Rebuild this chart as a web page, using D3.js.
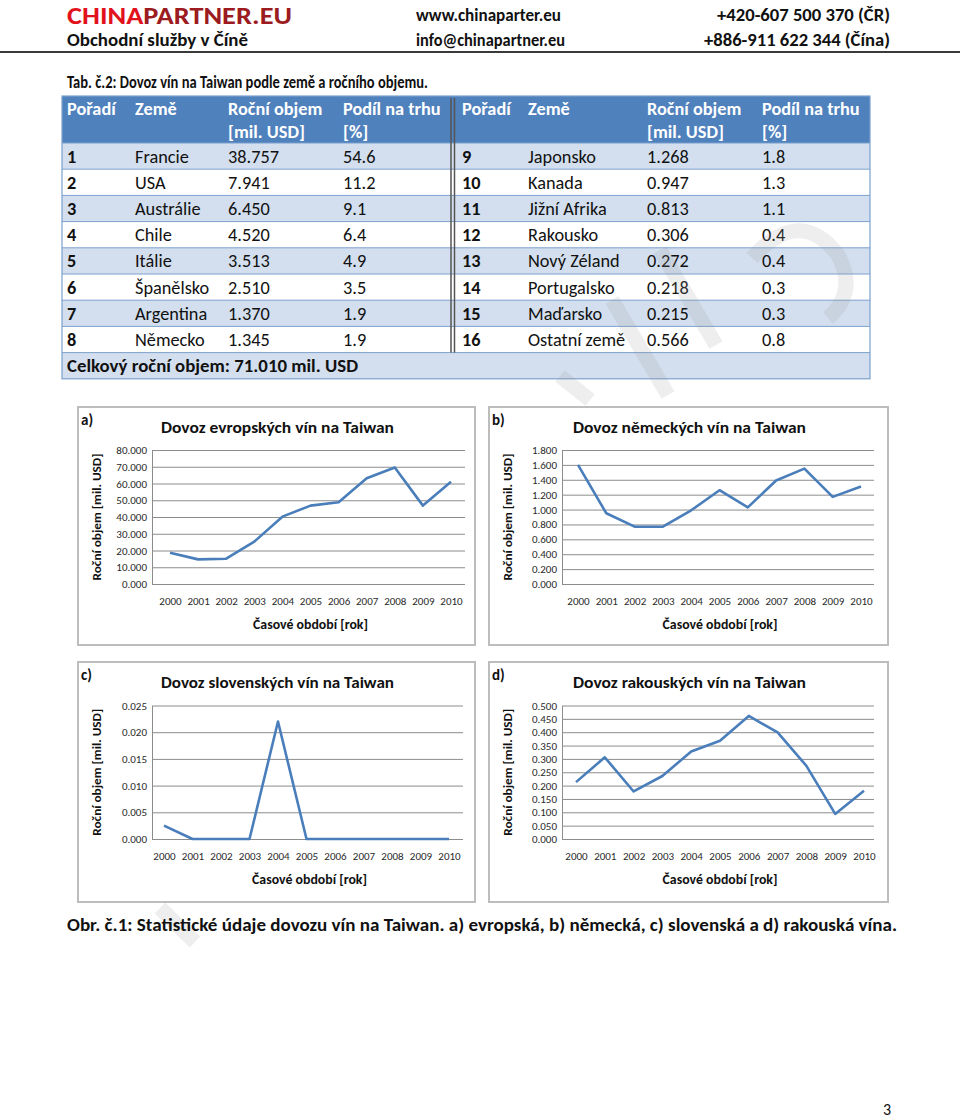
<!DOCTYPE html>
<html>
<head>
<meta charset="utf-8">
<script src="https://cdn.jsdelivr.net/npm/d3@7"></script>
<style>
html,body{margin:0;padding:0;background:#fff;}
svg{display:block;font-family:Carlito, Lato, "Open Sans", sans-serif;}
</style>
</head>
<body>
<script>
// ---------- DATA ----------
const years = ["2000","2001","2002","2003","2004","2005","2006","2007","2008","2009","2010"];
const europeValues   = [18.7, 14.7, 15.1, 25.3, 40.2, 46.8, 48.8, 63.1, 69.5, 46.8, 61.1];
const germanyValues  = [1.60, 0.95, 0.77, 0.77, 0.99, 1.26, 1.03, 1.39, 1.55, 1.17, 1.31];
const slovakiaValues = [0.0025, 0, 0, 0, 0.022, 0, 0, 0, 0, 0, 0];
const austriaValues  = [0.213, 0.306, 0.178, 0.236, 0.328, 0.368, 0.461, 0.399, 0.274, 0.094, 0.181];

const europeTicks   = [0,10,20,30,40,50,60,70,80];
const germanyTicks  = [0,0.2,0.4,0.6,0.8,1.0,1.2,1.4,1.6,1.8];
const slovakiaTicks = [0,0.005,0.010,0.015,0.020,0.025];
const austriaTicks  = [0,0.05,0.10,0.15,0.20,0.25,0.30,0.35,0.40,0.45,0.50];

const tableHeader = ["Pořadí","Země","Roční objem","Podíl na trhu"];
const tableHeader2 = ["","","[mil. USD]","[%]"];
const leftRanks = ["1","2","3","4","5","6","7","8"];
const leftCountries = ["Francie","USA","Austrálie","Chile","Itálie","Španělsko","Argentina","Německo"];
const leftVolumes = ["38.757","7.941","6.450","4.520","3.513","2.510","1.370","1.345"];
const leftShares = ["54.6","11.2","9.1","6.4","4.9","3.5","1.9","1.9"];
const rightRanks = ["9","10","11","12","13","14","15","16"];
const rightCountries = ["Japonsko","Kanada","Jižní Afrika","Rakousko","Nový Zéland","Portugalsko","Maďarsko","Ostatní země"];
const rightVolumes = ["1.268","0.947","0.813","0.306","0.272","0.218","0.215","0.566"];
const rightShares = ["1.8","1.3","1.1","0.4","0.4","0.3","0.3","0.8"];
const totalText = "Celkový roční objem: 71.010 mil. USD";

// ---------- SVG ----------
const svg = d3.select("body").append("svg").attr("width",960).attr("height",1118);
svg.append("rect").attr("width",960).attr("height",1118).attr("fill","#fff");

// ---------- HEADER ----------
const hdr = svg.append("g").attr("font-weight","bold");
const logo = hdr.append("text").attr("x",67).attr("y",24).attr("font-size",24.2)
  .attr("textLength",225).attr("lengthAdjust","spacingAndGlyphs");
logo.append("tspan").attr("fill","#e2121c").text("CHINA");
logo.append("tspan").attr("fill","#9c1b20").text("PARTNER.EU");
hdr.append("text").attr("x",67).attr("y",46).attr("font-size",17).attr("fill","#111")
  .attr("textLength",181).attr("lengthAdjust","spacingAndGlyphs").text("Obchodní služby v Číně");
hdr.append("text").attr("x",416).attr("y",21).attr("font-size",17).attr("fill","#111")
  .attr("textLength",145).attr("lengthAdjust","spacingAndGlyphs").text("www.chinaparter.eu");
hdr.append("text").attr("x",416).attr("y",46).attr("font-size",17).attr("fill","#111")
  .attr("textLength",149).attr("lengthAdjust","spacingAndGlyphs").text("info@chinapartner.eu");
hdr.append("text").attr("x",717).attr("y",21).attr("font-size",17).attr("fill","#111")
  .attr("textLength",173).attr("lengthAdjust","spacingAndGlyphs").text("+420-607 500 370 (ČR)");
hdr.append("text").attr("x",704).attr("y",46).attr("font-size",17).attr("fill","#111")
  .attr("textLength",186).attr("lengthAdjust","spacingAndGlyphs").text("+886-911 622 344 (Čína)");
svg.append("line").attr("x1",0).attr("x2",960).attr("y1",52).attr("y2",52)
  .attr("stroke","#3a3a3a").attr("stroke-width",2);

// ---------- TABLE ----------
svg.append("text").attr("x",67).attr("y",88).attr("font-size",17.5).attr("font-weight","bold")
  .attr("fill","#111").attr("textLength",361).attr("lengthAdjust","spacingAndGlyphs")
  .text("Tab. č.2: Dovoz vín na Taiwan podle země a ročního objemu.");

const tL = 62, tR = 870, tTop = 96, hdrH = 47, rowH = 26.2;
const bodyTop = tTop + hdrH;
const nRows = leftRanks.length;
const tbl = svg.append("g");
tbl.append("rect").attr("x",tL).attr("y",tTop).attr("width",tR-tL).attr("height",hdrH).attr("fill","#4f81bd");
d3.range(nRows+1).forEach(i=>{
  tbl.append("rect").attr("x",tL).attr("y",bodyTop+i*rowH).attr("width",tR-tL).attr("height",rowH)
    .attr("fill", (i%2===0) ? "#d3dfee" : "#ffffff");
});
d3.range(nRows+1).forEach(i=>{
  tbl.append("line").attr("x1",tL).attr("x2",tR).attr("y1",bodyTop+i*rowH).attr("y2",bodyTop+i*rowH)
    .attr("stroke","#7ba0cd").attr("stroke-width",1);
});
tbl.append("rect").attr("x",tL).attr("y",tTop).attr("width",tR-tL).attr("height",hdrH+(nRows+1)*rowH)
  .attr("fill","none").attr("stroke","#7ba0cd").attr("stroke-width",1.2);

// watermark (faint decoration)
const wm = svg.append("g").attr("stroke","#9a9a9a").attr("stroke-opacity",0.17).attr("fill","none")
  .attr("stroke-width",15).attr("stroke-linecap","butt");
wm.append("path").attr("d","M752 258 Q800 205 838 255 Q858 292 828 318");
wm.append("path").attr("d","M660 250 L716 345");
wm.append("path").attr("d","M612 300 L668 395");
wm.append("path").attr("d","M560 376 L590 400");
wm.append("path").attr("d","M160 908 L195 942");

// divider double line
tbl.append("line").attr("x1",451).attr("x2",451).attr("y1",tTop+2).attr("y2",bodyTop+nRows*rowH).attr("stroke","#555").attr("stroke-width",1.5);
tbl.append("line").attr("x1",454.5).attr("x2",454.5).attr("y1",tTop+2).attr("y2",bodyTop+nRows*rowH).attr("stroke","#555").attr("stroke-width",1.5);

const leftCols = [67,135,228,343], rightCols = [462,528,647,762];
const fs = 18.3;
[leftCols,rightCols].forEach(cols=>{
  cols.forEach((cx,j)=>{
    tbl.append("text").attr("x",cx).attr("y",tTop+19).attr("font-size",fs).attr("font-weight","bold")
      .attr("fill","#fff").text(tableHeader[j]);
    if (tableHeader2[j]) tbl.append("text").attr("x",cx).attr("y",tTop+42).attr("font-size",fs)
      .attr("font-weight","bold").attr("fill","#fff").text(tableHeader2[j]);
  });
});
function fillSide(cols, ranks, countries, vols, shares){
  ranks.forEach((r,i)=>{
    const y = bodyTop + i*rowH + rowH/2 + 6.5;
    tbl.append("text").attr("x",cols[0]).attr("y",y).attr("font-size",fs).attr("font-weight","bold").attr("fill","#111").text(r);
    tbl.append("text").attr("x",cols[1]).attr("y",y).attr("font-size",fs).attr("fill","#111").text(countries[i]);
    tbl.append("text").attr("x",cols[2]).attr("y",y).attr("font-size",fs).attr("fill","#111").text(vols[i]);
    tbl.append("text").attr("x",cols[3]).attr("y",y).attr("font-size",fs).attr("fill","#111").text(shares[i]);
  });
}
fillSide(leftCols, leftRanks, leftCountries, leftVolumes, leftShares);
fillSide(rightCols, rightRanks, rightCountries, rightVolumes, rightShares);
tbl.append("text").attr("x",67).attr("y",bodyTop+nRows*rowH+rowH/2+6.5).attr("font-size",17.5).attr("font-weight","bold")
  .attr("fill","#111").attr("textLength",291).attr("lengthAdjust","spacingAndGlyphs").text(totalText);

// ---------- CHARTS ----------
const panels = [
  {label:"a)", title:"Dovoz evropských vín na Taiwan", values:europeValues, ticks:europeTicks, fmt:d3.format(".3f"),
   box:[78,407,475,645], plotL:152, plotR:465, top:450, bottom:584, xr:[170,451]},
  {label:"b)", title:"Dovoz německých vín na Taiwan", values:germanyValues, ticks:germanyTicks, fmt:d3.format(".3f"),
   box:[489,407,888,645], plotL:562, plotR:874, top:450, bottom:584, xr:[578,861]},
  {label:"c)", title:"Dovoz slovenských vín na Taiwan", values:slovakiaValues, ticks:slovakiaTicks, fmt:d3.format(".3f"),
   box:[78,662,475,902], plotL:152, plotR:463, top:705.5, bottom:839, xr:[164,449]},
  {label:"d)", title:"Dovoz rakouských vín na Taiwan", values:austriaValues, ticks:austriaTicks, fmt:d3.format(".3f"),
   box:[489,662,888,902], plotL:562, plotR:874, top:705.5, bottom:839, xr:[576,864]}
];

panels.forEach(p=>{
  const g = svg.append("g");
  const [bx0,by0,bx1,by1] = p.box;
  g.append("rect").attr("x",bx0).attr("y",by0).attr("width",bx1-bx0).attr("height",by1-by0)
    .attr("fill","#fff").attr("stroke","#bdbdbd").attr("stroke-width",2);
  g.append("text").attr("x",bx0+3).attr("y",by0+18).attr("font-size",15).attr("font-weight","bold")
    .attr("fill","#111").text(p.label);
  const midX = (bx0+bx1)/2 + 1;
  g.append("text").attr("x",midX).attr("y",by0+26).attr("text-anchor","middle").attr("font-size",15.5)
    .attr("font-weight","bold").attr("fill","#111").attr("textLength",233).attr("lengthAdjust","spacingAndGlyphs")
    .text(p.title);

  const y = d3.scaleLinear().domain([0, p.ticks[p.ticks.length-1]]).range([p.bottom, p.top]);
  const x = d3.scalePoint().domain(years).range(p.xr);

  const yAxis = d3.axisLeft(y).tickValues(p.ticks).tickFormat(p.fmt)
    .tickSize(-(p.plotR-p.plotL)).tickSizeOuter(0).tickPadding(5);
  const ya = g.append("g").attr("transform",`translate(${p.plotL},0)`).call(yAxis);
  ya.attr("font-family",null);
  ya.select(".domain").attr("stroke","#8c8c8c");
  ya.selectAll(".tick line").attr("stroke","#8c8c8c").attr("stroke-width",1);
  ya.selectAll(".tick text").attr("font-size",11).attr("fill","#2a2a2a");

  const xAxis = d3.axisBottom(x).tickSize(0).tickPadding(13);
  const xa = g.append("g").attr("transform",`translate(0,${p.bottom})`).call(xAxis);
  xa.attr("font-family",null);
  xa.select(".domain").remove();
  xa.selectAll(".tick text").attr("font-size",11).attr("fill","#2a2a2a");

  g.append("path").datum(p.values)
    .attr("d", d3.line().x((d,i)=>x(years[i])).y(d=>y(d)))
    .attr("fill","none").attr("stroke","#4a7ebb").attr("stroke-width",2.6)
    .attr("stroke-linejoin","round");

  g.append("text").attr("transform",`translate(${bx0+23},${(p.top+p.bottom)/2}) rotate(-90)`)
    .attr("text-anchor","middle").attr("font-size",12.5).attr("font-weight","bold").attr("fill","#111")
    .attr("textLength",127).attr("lengthAdjust","spacingAndGlyphs")
    .text("Roční objem [mil. USD]");
  g.append("text").attr("x",(p.plotL+p.plotR)/2+2).attr("y",p.bottom+45).attr("text-anchor","middle")
    .attr("font-size",13.5).attr("font-weight","bold").attr("fill","#111")
    .attr("textLength",115).attr("lengthAdjust","spacingAndGlyphs")
    .text("Časové období [rok]");
});

// ---------- CAPTION & PAGE NUMBER ----------
svg.append("text").attr("x",67).attr("y",931).attr("font-size",17).attr("font-weight","bold").attr("fill","#111")
  .attr("textLength",830).attr("lengthAdjust","spacingAndGlyphs")
  .text("Obr. č.1: Statistické údaje dovozu vín na Taiwan. a) evropská, b) německá, c) slovenská a d) rakouská vína.");
svg.append("text").attr("x",883).attr("y",1115).attr("font-size",16).attr("fill","#111").text("3");
</script>
</body>
</html>
